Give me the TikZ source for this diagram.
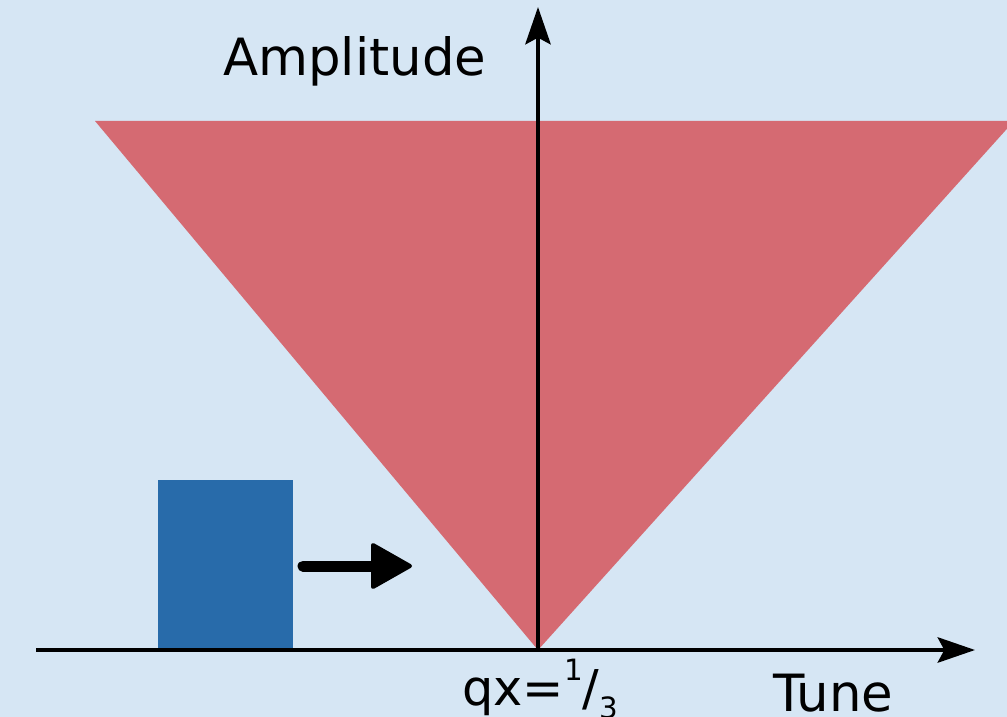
\documentclass[tikz,border=0pt]{standalone}
\usepackage{fontspec}
\setmainfont{DejaVu Sans}
\usetikzlibrary{arrows.meta}
\definecolor{bgc}{RGB}{214,230,244}
\definecolor{redc}{RGB}{213,106,114}
\definecolor{bluec}{RGB}{40,107,170}
\tikzset{
  axisline/.style={line width=3pt, draw=black, -{Stealth[length=28pt, width=19pt, inset=5pt]}},
  lbl/.style={inner sep=0pt, anchor=base west, font=\fontsize{38.5}{44}\selectfont},
  block/.style={fill=bluec, inner sep=0pt, minimum width=101.25pt, minimum height=127.5pt, anchor=south west},
  pushshaft/.style={line width=8.25pt, line cap=round, draw=black},
  pushhead/.style={fill=black, draw=black, line width=3pt, line join=round}
}
\begin{document}
\begin{tikzpicture}[x=0.75pt,y=-0.75pt]
\fill[bgc] (0,0) rectangle (1007,717);
\useasboundingbox (0,0) rectangle (1007,717);
\coordinate (apex) at (538,650);
\coordinate (tl) at (95,121);
\coordinate (tr) at (1014,121);
\begin{scope}
\clip (0,0) rectangle (1007,717);
\fill[redc] (tl) -- (tr) -- (apex) -- cycle;
\end{scope}
\node[block] (blk) at (158,650) {};
\coordinate (as) at (303,566);
\coordinate (ae) at (376,566);
\coordinate (h1) at (373,545);
\coordinate (h2) at (410,566);
\coordinate (h3) at (373,587);
\draw[pushshaft] (as) -- (ae);
\filldraw[pushhead] (h1) -- (h2) -- (h3) -- cycle;
\coordinate (xs) at (36,650);
\coordinate (xe) at (975,650);
\coordinate (ye) at (538,7);
\draw[axisline] (xs) -- (xe);
\draw[axisline] (apex) -- (ye);
\node[lbl] (amp) at (223,75) {Amplitude};
\node[lbl] (tune) at (773,711) {Tune};
\node[lbl, font=\fontsize{37}{44}\selectfont] (qx) at (462,705) {qx=\raisebox{0.5em}{\fontsize{22}{26}\selectfont 1}/\raisebox{-0.28em}{\fontsize{22}{26}\selectfont 3}};
\end{tikzpicture}
\end{document}
